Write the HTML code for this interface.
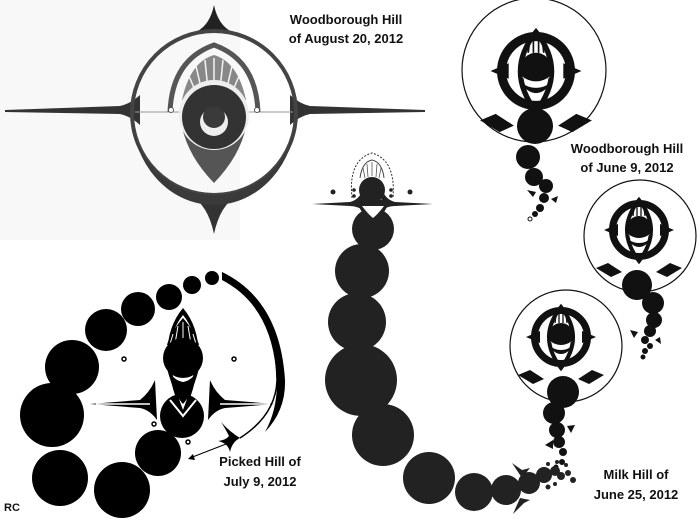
<!DOCTYPE html>
<html><head><meta charset="utf-8"><style>
html,body{margin:0;padding:0;background:#fff}
svg{display:block}
text{font-family:"Liberation Sans",sans-serif;font-weight:bold;font-size:13px;fill:#111}
</style></head><body>
<svg width="700" height="525" viewBox="0 0 700 525" xmlns="http://www.w3.org/2000/svg">
<defs>
<g id="mini">
<circle r="26.5" fill="none" stroke="#111" stroke-width="7"/>
<path d="M0,-30 Q24,0 0,31 Q-24,0 0,-30Z" fill="none" stroke="#111" stroke-width="4"/>
<g stroke="#111" stroke-width="1.3"><line x1="-5" y1="-22" x2="-6" y2="-14"/><line x1="-2" y1="-24" x2="-2" y2="-14"/><line x1="2" y1="-24" x2="2" y2="-14"/><line x1="5" y1="-22" x2="6" y2="-14"/></g>
<path d="M-13,8 Q0,26 13,8 Q0,18 -13,8Z" fill="#111"/>
<circle cx="0" cy="-2" r="12" fill="#111"/>
<path d="M-11,4 Q0,18 11,4 Q0,12 -11,4Z" fill="#fff"/>
<polygon points="-21,-6 -35,0 -21,6" fill="#111"/>
<polygon points="21,-6 35,0 21,6" fill="#111"/>
<polygon points="-43,38 -31,33 -17,42 -28,47" fill="#111"/>
<polygon points="43,38 31,33 17,42 28,47" fill="#111"/>
</g>
</defs>
<rect x="0" y="0" width="240" height="240" fill="#f8f8f8"/>

<!-- August 20 formation -->
<g>
<path d="M5,110 L120,106 Q130,104 140,95 L140,125 Q130,116 120,114 L5,112Z" fill="#333"/>
<path d="M425,110 L310,106 Q300,104 290,95 L290,125 Q300,116 310,114 L425,112Z" fill="#333"/>
<path d="M214,5 Q210,25 196,32 L232,32 Q218,25 214,5Z" fill="#222"/>
<path d="M214,234 Q208,205 190,195 L238,195 Q220,205 214,234Z" fill="#333"/>
<circle cx="214" cy="113" r="82" fill="none" stroke="#444" stroke-width="4"/>
<path d="M132,113 A82,82 0 0 0 296,113 A82,92 0 0 1 132,113Z" fill="#3a3a3a"/>
<line x1="135" y1="112" x2="293" y2="112" stroke="#999" stroke-width="1"/>
<path d="M170,112 Q172,60 214,45 Q256,60 258,112" fill="none" stroke="#555" stroke-width="5"/>
<path d="M182,100 Q190,62 214,55 Q238,62 246,100Z" fill="#888"/>
<g stroke="#f4f4f4" stroke-width="1.5"><line x1="214" y1="58" x2="214" y2="90"/><line x1="205" y1="60" x2="208" y2="90"/><line x1="223" y1="60" x2="220" y2="90"/><line x1="196" y1="66" x2="202" y2="92"/><line x1="232" y1="66" x2="226" y2="92"/><line x1="189" y1="76" x2="197" y2="95"/><line x1="239" y1="76" x2="231" y2="95"/></g>
<path d="M180,112 Q182,150 214,183 Q246,150 248,112Z" fill="#555"/>
<circle cx="214" cy="115" r="35" fill="#eee"/>
<circle cx="214" cy="117" r="32" fill="#333"/>
<circle cx="214" cy="122" r="14" fill="#eee"/>
<circle cx="214" cy="117" r="11" fill="#3a3a3a"/>
<circle cx="171" cy="110" r="2.5" fill="#fff" stroke="#555"/>
<circle cx="257" cy="110" r="2.5" fill="#fff" stroke="#555"/>
</g>
<text x="346" y="24" text-anchor="middle">Woodborough Hill</text>
<text x="346" y="43" text-anchor="middle">of August 20, 2012</text>

<!-- top right -->
<circle cx="534" cy="70" r="72" fill="none" stroke="#111" stroke-width="1.2"/>
<use href="#mini" transform="translate(536,71) scale(1.3)"/>
<g fill="#111">
<circle cx="535" cy="126" r="18"/><circle cx="528" cy="157" r="12"/><circle cx="534" cy="177" r="9"/>
<circle cx="546" cy="186" r="7"/><circle cx="544" cy="198" r="5"/><circle cx="540" cy="208" r="4"/><circle cx="535" cy="214" r="3"/>
<polygon points="527,190 536,192 533,197"/><polygon points="551,199 558,196 556,203"/>
</g>
<circle cx="530" cy="219" r="2" fill="none" stroke="#111"/>
<text x="627" y="153" text-anchor="middle">Woodborough Hill</text>
<text x="627" y="172" text-anchor="middle">of June 9, 2012</text>

<!-- middle right -->
<circle cx="640" cy="236" r="56" fill="none" stroke="#111" stroke-width="1.2"/>
<use href="#mini" transform="translate(639,230)"/>
<g fill="#111">
<circle cx="637" cy="285" r="15"/><circle cx="653" cy="303" r="11"/><circle cx="654" cy="320" r="8"/><circle cx="650" cy="331" r="6"/>
<circle cx="645" cy="340" r="4"/><circle cx="650" cy="346" r="3"/><circle cx="645" cy="351" r="3"/><circle cx="643" cy="357" r="2.5"/>
<polygon points="630,330 638,332 634,338"/><polygon points="655,340 660,337 661,344"/>
</g>

<!-- lower right -->
<circle cx="566" cy="346" r="56" fill="none" stroke="#111" stroke-width="1.2"/>
<use href="#mini" transform="translate(561,337)"/>
<g fill="#111">
<circle cx="563" cy="392" r="16"/><circle cx="554" cy="413" r="11"/><circle cx="557" cy="430" r="8"/><circle cx="559" cy="442" r="6"/>
<circle cx="563" cy="452" r="4"/><circle cx="562" cy="462" r="3"/><circle cx="556" cy="467" r="2.5"/>
<polygon points="545,445 553,440 553,449"/><polygon points="567,426 575,425 571,433"/>
</g>

<!-- Milk Hill -->
<g fill="#222">
<circle cx="373" cy="229" r="21"/><circle cx="362" cy="271" r="27"/><circle cx="357" cy="322" r="29"/>
<circle cx="361" cy="380" r="36"/><circle cx="383" cy="435" r="31"/><circle cx="429" cy="478" r="26"/>
<circle cx="474" cy="492" r="19"/><circle cx="506" cy="490" r="15"/><circle cx="529" cy="483" r="11"/>
<circle cx="544" cy="475" r="8"/><circle cx="555" cy="471" r="5"/><circle cx="561" cy="476" r="4"/><circle cx="568" cy="473" r="3"/><circle cx="573" cy="480" r="3"/>
<circle cx="548" cy="464" r="2"/><circle cx="557" cy="462" r="2"/><circle cx="566" cy="465" r="2"/><circle cx="548" cy="487" r="2.5"/><circle cx="555" cy="484" r="2"/>
<path d="M512,463 L522,470 L530,468 L522,478Z"/><path d="M513,514 L520,498 L530,500 L524,503Z"/>
<path d="M312,204 L350,202 Q358,200 362,192 L366,212 Q358,206 350,206Z"/>
<path d="M433,204 L395,202 Q387,200 383,192 L379,212 Q387,206 395,206Z"/>
<path d="M356,200 Q362,216 373,224 Q384,216 390,200Z" fill="#222"/>
<path d="M362,206 Q368,214 373,218 Q378,214 384,206Z" fill="#fff"/>
<circle cx="372" cy="190" r="13"/>
<circle cx="333" cy="192" r="2.5"/><circle cx="410" cy="192" r="2.5"/>
<circle cx="354" cy="190" r="1.8"/><circle cx="354" cy="196" r="1.8"/><circle cx="391" cy="190" r="1.8"/><circle cx="391" cy="196" r="1.8"/>
</g>
<path d="M352,198 Q348,160 372,153 Q396,160 393,198" fill="none" stroke="#333" stroke-width="1" stroke-dasharray="2,1.5"/>
<path d="M360,178 Q362,162 372,160 Q382,162 384,178" fill="none" stroke="#444" stroke-width="1"/>
<g stroke="#555" stroke-width="0.8"><line x1="372" y1="162" x2="372" y2="176"/><line x1="367" y1="164" x2="368" y2="177"/><line x1="377" y1="164" x2="376" y2="177"/><line x1="363" y1="168" x2="365" y2="178"/><line x1="381" y1="168" x2="379" y2="178"/></g>
<text x="636" y="479" text-anchor="middle">Milk Hill  of</text>
<text x="636" y="499" text-anchor="middle">June 25, 2012</text>

<!-- Picked Hill -->
<g fill="#000">
<circle cx="212" cy="278" r="7"/><circle cx="192" cy="285" r="9"/><circle cx="169" cy="297" r="13"/>
<circle cx="138" cy="309" r="17"/><circle cx="106" cy="330" r="21"/><circle cx="72" cy="367" r="27"/>
<circle cx="52" cy="415" r="32"/><circle cx="60" cy="478" r="28"/><circle cx="122" cy="490" r="28"/><circle cx="158" cy="453" r="23"/>
<path d="M222,272 Q280,300 285,380 Q286,410 265,432 Q280,405 276,370 Q270,305 222,280Z"/>
<circle cx="182" cy="416" r="22"/>
<path d="M90,404 L140,400 Q150,392 155,380 L157,420 Q150,410 140,408Z"/>
<path d="M275,404 L225,400 Q215,392 210,380 L208,420 Q215,410 225,408Z"/>
<path d="M183,308 Q214,345 183,416 Q152,345 183,308Z"/>
<path d="M229,436 Q225,428 221,422 Q230,432 240,438 Q232,442 230,452 Q228,443 218,441 Q226,440 229,436Z"/>
</g>
<path d="M222,273 Q276,300 277,380 Q276,415 240,438" fill="none" stroke="#000" stroke-width="1.5"/>
<path d="M96,404 L150,404 M220,404 L270,404" stroke="#fff" stroke-width="1.5"/>
<path d="M183,315 Q208,345 183,410 Q158,345 183,315Z" fill="#fff"/>
<path d="M183,318 Q196,333 199,345 L167,345 Q170,333 183,318Z" fill="#000"/>
<g stroke="#fff" stroke-width="1"><line x1="183" y1="322" x2="183" y2="344"/><line x1="178" y1="326" x2="175" y2="344"/><line x1="188" y1="326" x2="191" y2="344"/><line x1="173" y1="334" x2="170" y2="344"/><line x1="193" y1="334" x2="196" y2="344"/></g>
<path d="M165,360 Q172,392 183,404 Q194,392 201,360 Q196,380 183,382 Q170,380 165,360Z" fill="#000"/>
<circle cx="183" cy="358" r="20" fill="#000"/>
<path d="M170,400 L183,416 L196,400" fill="none" stroke="#fff" stroke-width="2"/>
<g fill="none" stroke="#000" stroke-width="1.5"><circle cx="124" cy="359" r="2"/><circle cx="234" cy="359" r="2"/><circle cx="154" cy="424" r="2"/><circle cx="188" cy="442" r="2"/></g>
<line x1="226" y1="444" x2="190" y2="458" stroke="#000" stroke-width="1"/>
<polygon points="188,459 193,454 195,460" fill="#000"/>
<text x="260" y="466" text-anchor="middle">Picked Hill  of</text>
<text x="260" y="486" text-anchor="middle">July 9, 2012</text>
<text x="4" y="511" style="font-size:11px">RC</text>
</svg>
</body></html>
